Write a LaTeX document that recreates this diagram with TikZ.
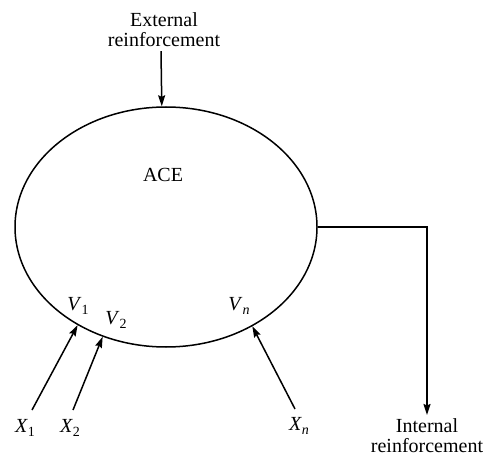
\documentclass[tikz,border=0pt]{standalone}
\usepackage{fontspec}
\setmainfont{Liberation Serif}
\usetikzlibrary{shapes.geometric,arrows.meta}
% italic variable with an upright or italic subscript
\newcommand{\varlbl}[2]{\textit{#1}\raisebox{-0.35ex}{\fontsize{14}{14}\selectfont #2}}
\begin{document}
\begin{tikzpicture}[x=1pt,y=-1pt,
  every node/.style={inner sep=0pt, font=\fontsize{20}{20}\selectfont},
  link/.style={line width=1.5pt, -{Stealth[length=11pt,width=7pt,inset=1.5pt]}},
  caption/.style={align=center},
  varname/.style={}]
  \useasboundingbox (0,0) rectangle (487,457);

  % the ACE unit
  \node[draw, ellipse, line width=1.5pt, minimum width=302pt, minimum height=240pt] (ace) at (166,227) {};
  \node (acelbl) at (163,175) {ACE};

  % external reinforcement entering from above
  \node[caption] (ext) at (164,30) {External\\reinforcement};
  \draw[link] (ext.south -| 161,0) ++(0,4) -- (ace.92);

  % internal reinforcement leaving on the right
  \node[caption] (int) at (427,436) {Internal\\reinforcement};
  \coordinate (corner) at (427,227);
  \draw[link] (ace.east) -- (corner) -- (427,415);

  % inputs X_i feeding the units V_i
  \coordinate (x1s) at (32,410);
  \coordinate (x2s) at (73,410);
  \coordinate (xns) at (295,409);
  \draw[link] (x1s) -- (ace.-132.3);
  \draw[link] (x2s) -- (ace.-120.9);
  \draw[link] (xns) -- (ace.-49.9);

  \node[varname] (x1) at (25,428) {\varlbl{X}{1}};
  \node[varname] (x2) at (70,428) {\varlbl{X}{2}};
  \node[varname] (xn) at (299,426) {\varlbl{X}{\textit{n}}};

  \node[varname] (v1) at (78,306) {\varlbl{V}{1}};
  \node[varname] (v2) at (116,320) {\varlbl{V}{2}};
  \node[varname] (vn) at (239,306) {\varlbl{V}{\textit{n}}};
\end{tikzpicture}
\end{document}
